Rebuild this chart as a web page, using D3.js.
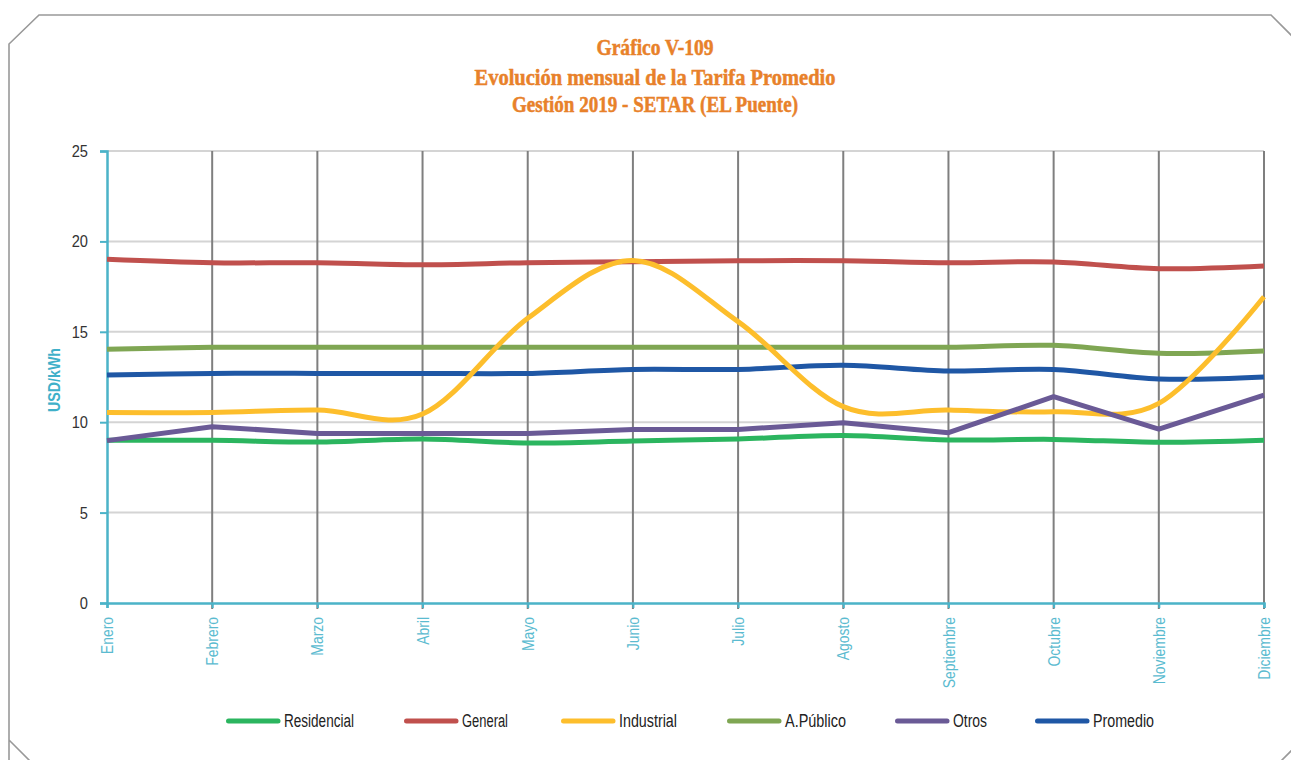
<!DOCTYPE html>
<html><head><meta charset="utf-8">
<script src="https://cdn.jsdelivr.net/npm/d3@7"></script>
<style>
html,body{margin:0;padding:0;background:#fff;}
svg{display:block;}
.nar{font-family:"Liberation Sans",Arial,sans-serif;}
</style></head>
<body>
<svg id="c" width="1291" height="760"></svg>
<script>
const months = ["Enero","Febrero","Marzo","Abril","Mayo","Junio","Julio","Agosto","Septiembre","Octubre","Noviembre","Diciembre"];
const yTicks = [0,5,10,15,20,25];
const residencial = [9.0,9.0,8.9,9.07,8.85,8.96,9.07,9.27,9.02,9.05,8.89,9.0];
const general     = [19.01,18.82,18.82,18.71,18.82,18.88,18.93,18.93,18.82,18.86,18.49,18.64];
const industrial  = [10.53,10.54,10.67,10.45,15.75,18.95,15.56,10.86,10.67,10.58,11.04,16.94];
const aPublico    = [14.03,14.14,14.14,14.14,14.14,14.14,14.14,14.14,14.14,14.25,13.81,13.94];
const otros       = [8.98,9.75,9.38,9.38,9.38,9.6,9.6,9.97,9.42,11.41,9.62,11.5];
const promedio    = [12.61,12.70,12.70,12.70,12.70,12.92,12.92,13.15,12.83,12.92,12.39,12.5];
const titleLines = ["Gráfico V-109","Evolución mensual de la Tarifa Promedio","Gestión 2019 - SETAR (EL Puente)"];
const yLabel = "USD/kWh";

const series = [
  {name:"Residencial", values:residencial, color:"#2BB55F", smooth:true},
  {name:"General", values:general, color:"#C0504D", smooth:true},
  {name:"Industrial", values:industrial, color:"#FDBE2C", smooth:true},
  {name:"A.Público", values:aPublico, color:"#7FA653", smooth:true},
  {name:"Otros", values:otros, color:"#6A5A96", smooth:false},
  {name:"Promedio", values:promedio, color:"#1F57A5", smooth:true}
];
const drawOrder = ["Residencial","General","A.Público","Promedio","Industrial","Otros"];

const svg = d3.select("#c");
const teal = "#4BB3C8";

function condense(sel, f){
  sel.each(function(){
    const w = this.getComputedTextLength();
    d3.select(this).attr("textLength", w*f).attr("lengthAdjust","spacingAndGlyphs");
  });
}

// frame with clipped corners
svg.append("path")
  .attr("d","M9,762 L9,44 L39,15 L1271,15 L1293,37 M1300,742 L1281,761 M9,740 L30,761")
  .attr("fill","none").attr("stroke","#999").attr("stroke-width",1.6);

// title
const tw = [117,361,286];
const tb = [55,85,112];
titleLines.forEach((t,i)=>{
  svg.append("text").attr("x",655).attr("y",tb[i]).attr("text-anchor","middle")
    .attr("font-family","'Liberation Serif','DejaVu Serif',serif").attr("font-weight","bold")
    .attr("font-size",23).attr("fill","#E8812A").attr("stroke","#E8812A").attr("stroke-width",0.5)
    .attr("textLength",tw[i]).attr("lengthAdjust","spacingAndGlyphs").text(t);
});

const x = d3.scalePoint().domain(months).range([107,1264]);
const y = d3.scaleLinear().domain([0,25]).range([603,151]);

// horizontal grid
svg.append("g").selectAll("line").data(yTicks.filter(d=>d>0)).join("line")
  .attr("x1",107).attr("x2",1264).attr("y1",d=>y(d)).attr("y2",d=>y(d))
  .attr("stroke","#d4d4d4").attr("stroke-width",2);
// vertical grid
svg.append("g").selectAll("line").data(months.slice(1)).join("line")
  .attr("x1",d=>x(d)).attr("x2",d=>x(d)).attr("y1",y(25)).attr("y2",y(0)+6)
  .attr("stroke","#7f7f7f").attr("stroke-width",2);

// y axis
const ya = svg.append("g").attr("transform","translate(107,0)")
  .call(d3.axisLeft(y).tickValues(yTicks).tickSize(7).tickPadding(12));
ya.select(".domain").attr("stroke",teal).attr("stroke-width",2.5);
ya.selectAll(".tick line").attr("stroke",teal).attr("stroke-width",2);
ya.selectAll(".tick text").attr("class","nar").attr("font-size",17).attr("fill","#333").call(condense,0.86);

// x axis
const xa = svg.append("g").attr("transform","translate(0,603)")
  .call(d3.axisBottom(x).tickSize(5).tickPadding(0));
xa.select(".domain").attr("stroke",teal).attr("stroke-width",2.5);
xa.selectAll(".tick line").attr("stroke",teal).attr("stroke-width",2);
xa.selectAll(".tick text").attr("class","nar").attr("font-size",16).attr("fill","#5BBBD0")
  .attr("text-anchor","end").attr("dy","0.35em")
  .attr("transform","translate(0,14) rotate(-90)").attr("x",0).attr("y",0).call(condense,0.87);

// y label
svg.append("text").attr("transform","translate(60,380) rotate(-90)")
  .attr("text-anchor","middle").attr("class","nar").attr("font-weight","bold")
  .attr("font-size",17).attr("fill","#3FB0C9")
  .attr("textLength",64).attr("lengthAdjust","spacingAndGlyphs").text(yLabel);

// lines
const g = svg.append("g");
drawOrder.forEach(n=>{
  const s = series.find(d=>d.name===n);
  const line = d3.line().x((d,i)=>x(months[i])).y(d=>y(d))
    .curve(s.smooth ? d3.curveCatmullRom.alpha(0) : d3.curveLinear);
  g.append("path").attr("d",line(s.values)).attr("fill","none")
    .attr("stroke",s.color).attr("stroke-width",5).attr("stroke-linejoin","round");
});

// legend
const lx = [226,404,561,727,895,1035];
const lw = [70,46,58,61,34,61];
const lg = svg.append("g");
series.forEach((s,i)=>{
  lg.append("line").attr("x1",lx[i]+2.5).attr("x2",lx[i]+52).attr("y1",721).attr("y2",721)
    .attr("stroke",s.color).attr("stroke-width",5).attr("stroke-linecap","round");
  lg.append("text").attr("x",lx[i]+58).attr("y",721).attr("dy","0.35em").attr("class","nar")
    .attr("font-size",18).attr("fill","#222")
    .attr("textLength",lw[i]).attr("lengthAdjust","spacingAndGlyphs").text(s.name);
});
</script>
</body></html>
